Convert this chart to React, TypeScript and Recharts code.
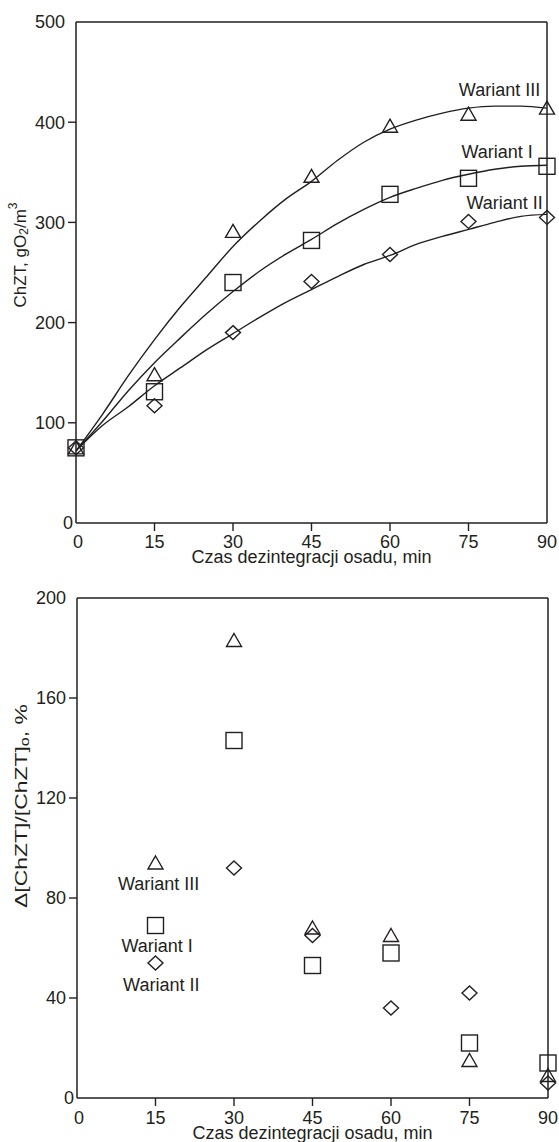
import { ComposedChart, Line, Scatter, XAxis, YAxis, ReferenceLine, ReferenceDot } from 'recharts';

// measurement times, min
const minutes = [0, 15, 30, 45, 60, 75, 90];
const deltaMinutes = [15, 30, 45, 60, 75, 90];
const curveMinutes = [0, 5, 10, 15, 20, 25, 30, 35, 40, 45, 50, 55, 60, 65, 70, 75, 80, 85, 90];

// ChZT, gO2/m3 (measured points)
const chztWariantI = [75, 131, 240, 282, 328, 344, 356];
const chztWariantII = [75, 117, 190, 241, 268, 301, 305];
const chztWariantIII = [75, 148, 291, 346, 396, 408, 414];

// fitted curves
const fitWariantI = [72, 101, 132, 160, 185, 209, 231, 251, 268, 283, 299, 313, 325, 334, 342, 348, 353, 356, 357];
const fitWariantII = [72, 97, 116, 137, 155, 173, 189, 205, 220, 233, 246, 258, 267, 278, 286, 293, 300, 306, 308];
const fitWariantIII = [72, 108, 147, 183, 216, 246, 276, 301, 323, 341, 362, 380, 393, 402, 409, 414, 416, 416, 414];

// Δ[ChZT]/[ChZT]o, %
const deltaWariantI = [69, 143, 53, 58, 22, 14];
const deltaWariantII = [54, 92, 65, 36, 42, 6];
const deltaWariantIII = [94, 183, 68, 65, 15, 9];

const chztTicks = [0, 100, 200, 300, 400, 500];
const deltaTicks = [0, 40, 80, 120, 160, 200];

const ink = '#231f20';
const font = '"Liberation Sans", Arial, Helvetica, sans-serif';

const toPoints = (xs: number[], ys: number[]) => xs.map((t, i) => ({ t, v: ys[i] }));

const triangle = (p: any) => (
  <path d={`M${p.cx},${p.cy - 7} L${p.cx + 7.5},${p.cy + 6} L${p.cx - 7.5},${p.cy + 6} Z`} fill="none" stroke={ink} strokeWidth={1.4} />
);
const square = (p: any) => (
  <rect x={p.cx - 8} y={p.cy - 8} width={16} height={16} fill="none" stroke={ink} strokeWidth={1.4} />
);
const diamond = (p: any) => (
  <path d={`M${p.cx},${p.cy - 7} L${p.cx + 7.5},${p.cy} L${p.cx},${p.cy + 7} L${p.cx - 7.5},${p.cy} Z`} fill="none" stroke={ink} strokeWidth={1.4} />
);

const makeYTick = (max: number) => (props: any) => {
  const { x, y, payload } = props;
  const axisX = x + 11;
  const v = payload.value;
  const edge = v === 0 || v === max;
  return (
    <g>
      {!edge && <line x1={axisX - 8} x2={axisX} y1={y} y2={y} stroke={ink} strokeWidth={1.4} />}
      <text x={v === 0 ? x + 8 : x} y={y} dy="0.36em" textAnchor="end" fontSize={18} fill={ink} fontFamily={font}>
        {v}
      </text>
    </g>
  );
};

const makeXTick = (gap: number) => (props: any) => {
  const { x, y, payload } = props;
  const axisY = y - gap;
  const v = payload.value;
  const edge = v === 0 || v === 90;
  return (
    <g>
      {!edge && <line x1={x} x2={x} y1={axisY} y2={axisY + 8} stroke={ink} strokeWidth={1.4} />}
      <text x={x + (v === 0 ? 2 : 0)} y={y} dy="0.7em" textAnchor="middle" fontSize={18} fill={ink} fontFamily={font}>
        {v}
      </text>
    </g>
  );
};

const XTitle = (below: number) => (props: any) => {
  const vb = props.viewBox;
  return (
    <text x={vb.x + vb.width / 2} y={vb.y + below} textAnchor="middle" fontSize={18} fill={ink} fontFamily={font}>
      Czas dezintegracji osadu, min
    </text>
  );
};

const ChztTitle = () => (
  <text
    x={20}
    y={255}
    transform="rotate(-90, 20, 255)"
    textAnchor="middle"
    dominantBaseline="central"
    fontSize={17}
    fill={ink}
    fontFamily={font}
  >
    ChZT, gO<tspan fontSize={12} dy={4}>2</tspan>
    <tspan dy={-4}>/m</tspan>
    <tspan fontSize={12} dy={-7}>3</tspan>
  </text>
);

const DeltaTitle = () => (
  <text
    x={21}
    y={236}
    transform="rotate(-90, 21, 236)"
    textAnchor="middle"
    dominantBaseline="central"
    fontSize={17}
    fill={ink}
    fontFamily={font}
    textLength={204}
    lengthAdjust="spacingAndGlyphs"
  >
    Δ[ChZT]/[ChZT]<tspan fontSize={12} dy={4}>o</tspan>
    <tspan dy={-4}>, %</tspan>
  </text>
);

const tag = (text: string, anchor: 'start' | 'middle' | 'end') => (props: any) => (
  <text x={props.viewBox.x} y={props.viewBox.y} dy="0.36em" textAnchor={anchor} fontSize={18} fill={ink} fontFamily={font}>
    {text}
  </text>
);

export default function App() {
  const axisLine = { stroke: ink, strokeWidth: 1.5 };
  return (
    <div style={{ position: 'absolute', left: 0, top: 0, width: 559, height: 1142, background: '#fff' }}>
      <ComposedChart width={559} height={570} margin={{ top: 22, right: 12, left: 0, bottom: 0 }}>
        <XAxis
          type="number"
          dataKey="t"
          domain={[0, 90]}
          ticks={minutes}
          interval={0}
          height={47}
          tickSize={8}
          tickMargin={4}
          tickLine={false}
          axisLine={axisLine}
          tick={makeXTick(12)}
          label={XTitle(40)}
        />
        <YAxis
          type="number"
          domain={[0, 500]}
          ticks={chztTicks}
          interval={0}
          width={76}
          tickSize={8}
          tickMargin={3}
          tickLine={false}
          axisLine={axisLine}
          tick={makeYTick(500)}
          label={<ChztTitle />}
        />
        <ReferenceLine y={500} stroke={ink} strokeWidth={1.5} />
        <ReferenceLine x={90} stroke={ink} strokeWidth={1.5} />
        <Line data={toPoints(curveMinutes, fitWariantIII)} dataKey="v" type="monotone" stroke={ink} strokeWidth={1.4} dot={false} activeDot={false} isAnimationActive={false} />
        <Line data={toPoints(curveMinutes, fitWariantI)} dataKey="v" type="monotone" stroke={ink} strokeWidth={1.4} dot={false} activeDot={false} isAnimationActive={false} />
        <Line data={toPoints(curveMinutes, fitWariantII)} dataKey="v" type="monotone" stroke={ink} strokeWidth={1.4} dot={false} activeDot={false} isAnimationActive={false} />
        <Scatter data={toPoints(minutes, chztWariantIII)} dataKey="v" shape={triangle} isAnimationActive={false} />
        <Scatter data={toPoints(minutes, chztWariantI)} dataKey="v" shape={square} isAnimationActive={false} />
        <Scatter data={toPoints(minutes, chztWariantII)} dataKey="v" shape={diamond} isAnimationActive={false} />
        <ReferenceDot x={88.7} y={433} r={0} fill="none" stroke="none" label={tag('Wariant III', 'end')} />
        <ReferenceDot x={87.3} y={371} r={0} fill="none" stroke="none" label={tag('Wariant I', 'end')} />
        <ReferenceDot x={89.2} y={320} r={0} fill="none" stroke="none" label={tag('Wariant II', 'end')} />
      </ComposedChart>
      <ComposedChart width={559} height={572} margin={{ top: 28, right: 11, left: 0, bottom: 0 }}>
        <XAxis
          type="number"
          dataKey="t"
          domain={[0, 90]}
          ticks={minutes}
          interval={0}
          height={44}
          tickSize={8}
          tickMargin={5}
          tickLine={false}
          axisLine={axisLine}
          tick={makeXTick(13)}
          label={XTitle(41)}
        />
        <YAxis
          type="number"
          domain={[0, 200]}
          ticks={deltaTicks}
          interval={0}
          width={77}
          tickSize={8}
          tickMargin={3}
          tickLine={false}
          axisLine={axisLine}
          tick={makeYTick(200)}
          label={<DeltaTitle />}
        />
        <ReferenceLine y={200} stroke={ink} strokeWidth={1.5} />
        <ReferenceLine x={90} stroke={ink} strokeWidth={1.5} />
        <Scatter data={toPoints(deltaMinutes, deltaWariantIII)} dataKey="v" shape={triangle} isAnimationActive={false} />
        <Scatter data={toPoints(deltaMinutes, deltaWariantI)} dataKey="v" shape={square} isAnimationActive={false} />
        <Scatter data={toPoints(deltaMinutes, deltaWariantII)} dataKey="v" shape={diamond} isAnimationActive={false} />
        <ReferenceDot x={15.6} y={85.7} r={0} fill="none" stroke="none" label={tag('Wariant III', 'middle')} />
        <ReferenceDot x={15.3} y={60.8} r={0} fill="none" stroke="none" label={tag('Wariant I', 'middle')} />
        <ReferenceDot x={16.1} y={45.2} r={0} fill="none" stroke="none" label={tag('Wariant II', 'middle')} />
      </ComposedChart>
    </div>
  );
}
